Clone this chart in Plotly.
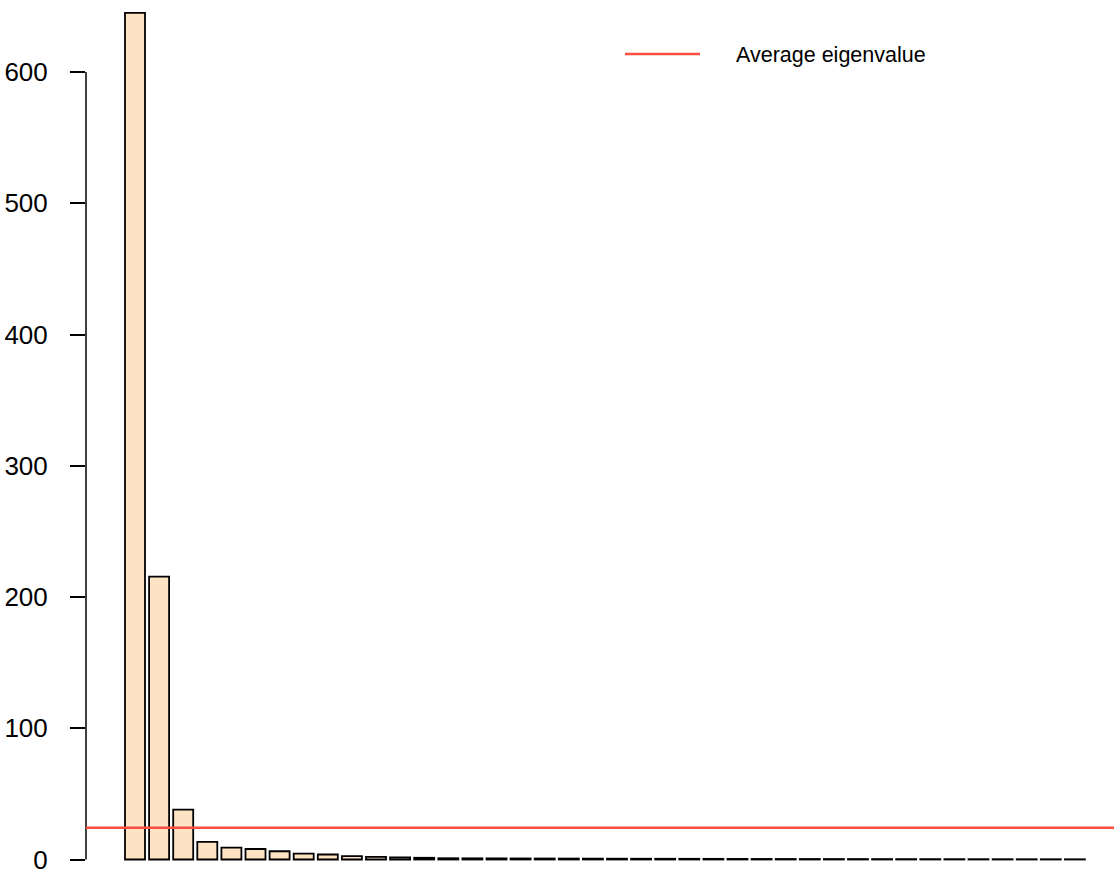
import numpy as np
import plotly.graph_objects as go

components = list(range(1, 41))
eigenvalues = [645, 215.5, 38, 13.5, 9, 8, 6.3, 4.5, 3.8, 2.5, 2, 1.6, 1.3,
               0.95, 0.9, 0.85, 0.8, 0.75, 0.7, 0.66, 0.62, 0.58, 0.55, 0.52,
               0.49, 0.46, 0.43, 0.4, 0.38, 0.36, 0.34, 0.32, 0.3, 0.28, 0.26,
               0.24, 0.22, 0.2, 0.18, 0.16]
y_ticks = [0, 100, 200, 300, 400, 500, 600]
legend_label = "Average eigenvalue"

avg = float(np.mean(eigenvalues))

FONT = "Liberation Sans, Arial, Helvetica, sans-serif"
W, H = 1114, 875
ML, MR, MT, MB = 86, 0, 5, 5
pw, ph = W - ML - MR, H - MT - MB
RED = "#FF4D40"

fig = go.Figure()
fig.add_trace(go.Bar(
    x=components, y=eigenvalues,
    marker=dict(color="#FDE2C4", line=dict(color="black", width=1.8)),
    hoverinfo="x+y", showlegend=False,
))

# y axis line (R style: only spans the tick range)
fig.add_shape(type="line", xref="paper", yref="y", x0=0, x1=0,
              y0=y_ticks[0], y1=y_ticks[-1], line=dict(color="black", width=1.5))
# average eigenvalue line
fig.add_shape(type="line", xref="paper", yref="y", x0=0, x1=1,
              y0=avg, y1=avg, line=dict(color=RED, width=2.5))

# custom legend
def px_x(p):
    return (p - ML) / pw

def px_y(p):
    return (H - MB - p) / ph

fig.add_shape(type="line", xref="paper", yref="paper",
              x0=px_x(625), x1=px_x(700), y0=px_y(54), y1=px_y(54),
              line=dict(color=RED, width=2.5))
fig.add_annotation(xref="paper", yref="paper", x=px_x(734), y=px_y(55),
                   text=legend_label, showarrow=False, xanchor="left",
                   yanchor="middle", font=dict(family=FONT, size=21.5, color="black"))

pitch = 24.1
x_left = 1 - (135 - ML) / pitch
x_right = 1 + (W - MR - 135) / pitch
y_bottom = -((H - MB) - 859.5) / 1.3125
y_top = (859.5 - MT) / 1.3125

fig.update_layout(
    width=W, height=H,
    margin=dict(l=ML, r=MR, t=MT, b=MB),
    plot_bgcolor="white", paper_bgcolor="white",
    bargap=0.17,
    xaxis=dict(range=[x_left, x_right], visible=False, showgrid=False, zeroline=False),
    yaxis=dict(range=[y_bottom, y_top], tickvals=y_ticks, ticktext=[str(t) for t in y_ticks],
               ticks="outside", ticklen=15, tickwidth=1.5, tickcolor="black",
               showline=False, showgrid=False, zeroline=False,
               ticklabelstandoff=17,
               tickfont=dict(family=FONT, size=26, color="black")),
)

fig.write_html("out.html", config={"displayModeBar": False},
               post_script="document.body.style.margin='0';document.body.style.overflow='hidden';")
